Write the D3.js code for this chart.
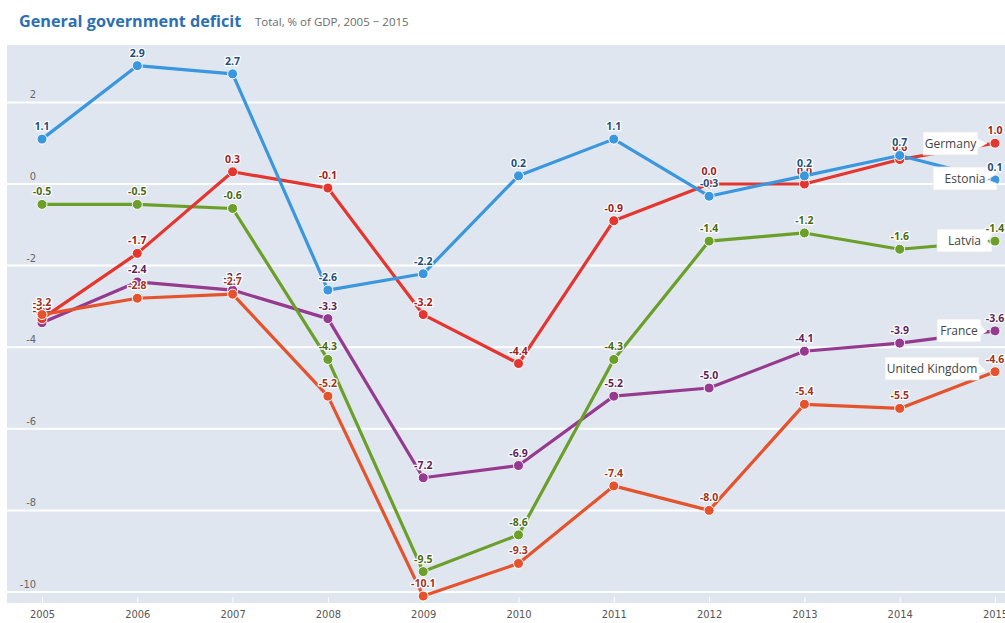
<!DOCTYPE html>
<html><head><meta charset="utf-8">
<script src="https://cdn.jsdelivr.net/npm/d3@7"></script>
<style>
body{margin:0;background:#fff;font-family:"Open Sans","Noto Sans",sans-serif;}
svg{display:block;}
</style></head>
<body>
<svg id="c" width="1005" height="623"></svg>
<script>
const years = [2005,2006,2007,2008,2009,2010,2011,2012,2013,2014,2015];
const estonia = [1.1, 2.9, 2.7, -2.6, -2.2, 0.2, 1.1, -0.3, 0.2, 0.7, 0.1];
const germany = [-3.3, -1.7, 0.3, -0.1, -3.2, -4.4, -0.9, 0.0, 0.0, 0.6, 1.0];
const latvia  = [-0.5, -0.5, -0.6, -4.3, -9.5, -8.6, -4.3, -1.4, -1.2, -1.6, -1.4];
const france  = [-3.4, -2.4, -2.6, -3.3, -7.2, -6.9, -5.2, -5.0, -4.1, -3.9, -3.6];
const uk      = [-3.2, -2.8, -2.7, -5.2, -10.1, -9.3, -7.4, -8.0, -5.4, -5.5, -4.6];
const yTicks = [2, 0, -2, -4, -6, -8, -10];

// drawing order: first = bottom
const series = [
  {name:"France", values:france, color:"#963a8f", label:"#5e1f5b", box:{x:937,y:319,w:44}},
  {name:"Latvia", values:latvia, color:"#6b9f2a", label:"#4a6a12", box:{x:937,y:229,w:55}},
  {name:"Germany", values:germany, color:"#e5352f", label:"#a11c1c", box:{x:923,y:132,w:55}},
  {name:"United Kingdom", values:uk, color:"#e5532d", label:"#a3331b", box:{x:885,y:357,w:94}},
  {name:"Estonia", values:estonia, color:"#3a97de", label:"#1c4f7c", box:{x:933,y:167,w:64}}
];

const svg = d3.select("#c");
const L = 7, R = 1005, T = 45, B = 603;
const x = d3.scaleLinear().domain([2005,2015]).range([42,995]);
const y = d3.scaleLinear().domain([0,2]).range([184,102.4]);
const fmt = d => d3.format(".1f")(d).replace("\u2212","-");
const condensed = "'DejaVu Sans Condensed','Liberation Sans Narrow',sans-serif";

svg.append("rect").attr("x",L).attr("y",T).attr("width",R-L).attr("height",B-T).attr("fill","#dfe6ef");

// gridlines
svg.append("g").selectAll("line").data(yTicks).join("line")
  .attr("x1",L).attr("x2",R).attr("y1",d=>y(d)).attr("y2",d=>y(d))
  .attr("stroke","#fff").attr("stroke-width",2);
svg.append("g").selectAll("text").data(yTicks).join("text")
  .attr("x",36).attr("y",d=>y(d)-4).attr("text-anchor","end")
  .attr("font-size",11).attr("fill","#666")
  .attr("font-family",condensed)
  .text(d=>String(d));

// x axis
const xAxis = d3.axisBottom(x).tickValues(years).tickFormat(d3.format("d")).tickSize(6).tickPadding(7);
const gx = svg.append("g").attr("transform",`translate(0,${B-6})`).call(xAxis);
gx.select(".domain").remove();
gx.selectAll(".tick line").attr("stroke","#fff").attr("stroke-width",1);
gx.selectAll(".tick text").attr("fill","#555").attr("font-size",11)
  .attr("font-family",condensed);

// title
svg.append("text").attr("x",19).attr("y",27).attr("font-size",16.2).attr("font-weight","bold")
  .attr("fill","#2c6fb3").attr("font-family","'Open Sans',sans-serif").text("General government deficit");
svg.append("text").attr("x",255).attr("y",26).attr("font-size",11.5)
  .attr("fill","#6b6b6b").attr("font-family","'Open Sans',sans-serif").text("Total, % of GDP, 2005 \u2212 2015");

const line = d3.line().x((d,i)=>x(years[i])).y(d=>y(d));

function addLabels(g, s, data, offset){
  g.selectAll("text.v").data(data).join("text").attr("class","v")
    .attr("x",(d,i)=>x(years[i+offset])).attr("y",d=>y(d)-9).attr("text-anchor","middle")
    .attr("font-size",10.5).attr("font-weight","bold").attr("fill",s.label)
    .attr("stroke","#fff").attr("stroke-width",2.5).attr("paint-order","stroke")
    .attr("stroke-linejoin","round")
    .text(fmt);
}

series.forEach(s=>{
  const g = svg.append("g");
  g.append("path").attr("d",line(s.values)).attr("fill","none")
    .attr("stroke",s.color).attr("stroke-width",3.2).attr("stroke-linejoin","round");
  g.append("g").selectAll("circle").data(s.values).join("circle")
    .attr("cx",(d,i)=>x(years[i])).attr("cy",d=>y(d)).attr("r",5)
    .attr("fill",s.color).attr("stroke","#fff").attr("stroke-width",1);
  addLabels(g.append("g"), s, s.values.slice(0,-1), 0);
});

// legend boxes with pointers
series.forEach(s=>{
  const b = s.box, h = 23;
  const px = x(2015), py = y(s.values[s.values.length-1]);
  const g = svg.append("g");
  const rx = b.x + b.w;
  const my = b.y + h/2;
  g.append("path")
    .attr("d",`M${b.x},${b.y}H${rx}V${my-5}L${px-8},${py}L${rx},${my+5}V${b.y+h}H${b.x}Z`)
    .attr("fill","#fff").attr("stroke","#e6e6e6").attr("stroke-width",0.8);
  g.append("text").attr("x",b.x+b.w/2).attr("y",b.y+16).attr("text-anchor","middle")
    .attr("font-size",12).attr("fill","#444").attr("font-family","'Open Sans',sans-serif").text(s.name);
});
// last-point labels on top of legend boxes
series.forEach(s=>{
  addLabels(svg.append("g"), s, s.values.slice(-1), s.values.length-1);
});
</script>
</body></html>
